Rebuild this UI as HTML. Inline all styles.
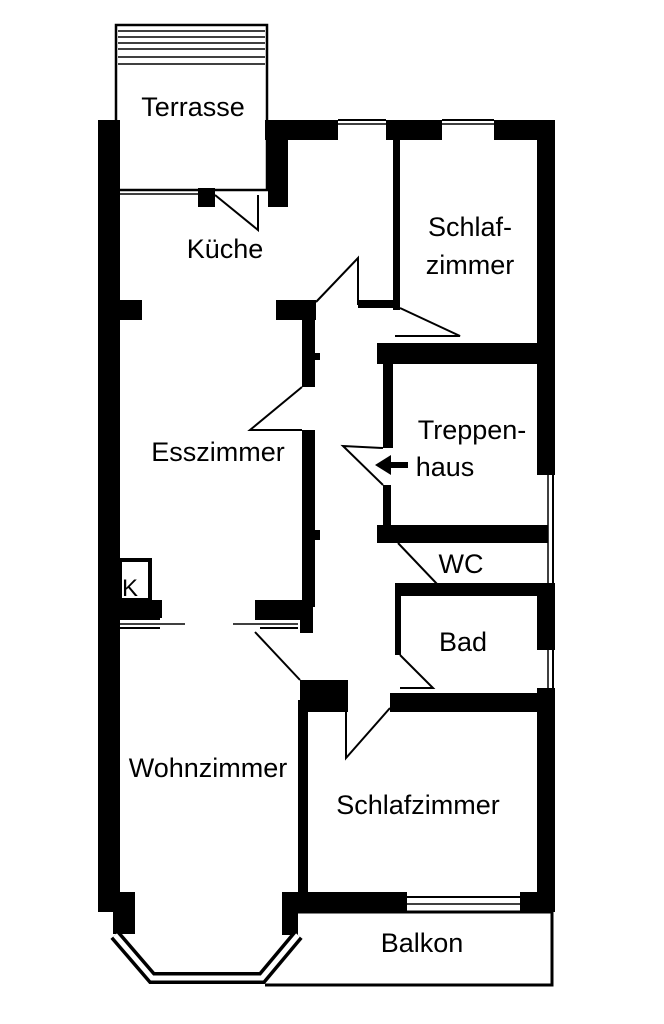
<!DOCTYPE html>
<html><head><meta charset="utf-8"><style>
html,body{margin:0;padding:0;background:#fff}
svg{display:block}
text{font-family:"Liberation Sans",sans-serif;font-size:27px;fill:#000;text-anchor:middle}
</style></head><body>
<svg width="664" height="1024" viewBox="0 0 664 1024" xmlns="http://www.w3.org/2000/svg">
<g fill="#000">
<rect x="98" y="120" width="22" height="792"/>
<rect x="265" y="120" width="73" height="20"/>
<rect x="386" y="120" width="56" height="20"/>
<rect x="494" y="120" width="61" height="20"/>
<rect x="537" y="120" width="18" height="355"/>
<rect x="268" y="140" width="20" height="67"/>
<rect x="198" y="188" width="17" height="19"/>
<rect x="393" y="140" width="7" height="170"/>
<rect x="358" y="300" width="42" height="8"/>
<rect x="120" y="300" width="22" height="20"/>
<rect x="276" y="300" width="40" height="20"/>
<rect x="302" y="300" width="13" height="87"/>
<rect x="315" y="353" width="5" height="7"/>
<rect x="302" y="430" width="13" height="177"/>
<rect x="315" y="530" width="5" height="10"/>
<rect x="120" y="600" width="42" height="18"/>
<rect x="255" y="600" width="55" height="20"/>
<rect x="300" y="600" width="13" height="33"/>
<rect x="300" y="680" width="48" height="32"/>
<rect x="298" y="700" width="10" height="192"/>
<rect x="390" y="693" width="147" height="19"/>
<rect x="377" y="343" width="163" height="21"/>
<rect x="383" y="363" width="10" height="85"/>
<rect x="383" y="485" width="8" height="42"/>
<rect x="377" y="525" width="171" height="18"/>
<rect x="395" y="583" width="145" height="13"/>
<rect x="395" y="583" width="6" height="72"/>
<rect x="537" y="583" width="18" height="67"/>
<rect x="537" y="688" width="18" height="224"/>
<rect x="298" y="892" width="109" height="20"/>
<rect x="520" y="892" width="35" height="20"/>
<rect x="113" y="892" width="22" height="42"/>
<rect x="282" y="892" width="16" height="43"/>
<rect x="388" y="462" width="20" height="6"/>
<polygon points="375,465 391,455 391,475"/>
</g>
<g fill="none" stroke="#000">
<rect x="116" y="25" width="151" height="165" stroke-width="2.5"/>
<g stroke-width="1.5">
<line x1="118" y1="31" x2="265" y2="31"/><line x1="118" y1="37" x2="265" y2="37"/>
<line x1="118" y1="43" x2="265" y2="43"/><line x1="118" y1="49" x2="265" y2="49"/>
<line x1="118" y1="57" x2="265" y2="57"/><line x1="118" y1="64" x2="265" y2="64"/>
<line x1="120" y1="194" x2="198" y2="194"/><line x1="338" y1="124" x2="386" y2="124"/>
<line x1="442" y1="124" x2="494" y2="124"/>
<line x1="548" y1="475" x2="548" y2="583"/><line x1="548" y1="650" x2="548" y2="688"/>
<line x1="120" y1="624" x2="185" y2="624"/><line x1="233" y1="624" x2="298" y2="624"/>
<line x1="407" y1="904" x2="520" y2="904"/>
</g>
<g stroke-width="2">
<line x1="120" y1="619" x2="160" y2="619"/><line x1="260" y1="619" x2="298" y2="619"/>
<line x1="120" y1="628" x2="160" y2="628"/><line x1="260" y1="628" x2="298" y2="628"/>
<line x1="407" y1="897" x2="520" y2="897"/>
<line x1="338" y1="120" x2="386" y2="120"/><line x1="442" y1="120" x2="494" y2="120"/>
<line x1="553" y1="475" x2="553" y2="583"/><line x1="553" y1="650" x2="553" y2="688"/>
<polyline points="215,195 258,230 258,195"/>
<polyline points="316,302 358,258 358,305"/>
<polyline points="400,308 460,336 395,336"/>
<polyline points="302,387 250,430 302,430"/>
<polyline points="383,485 343,446 383,448"/>
<polyline points="398,543 438,585 400,585"/>
<polyline points="400,655 433,688 400,688"/>
<polyline points="255,632 300,680"/>
<polyline points="346,712 346,758 390,708"/>
</g>
<rect x="120" y="560" width="30" height="40" stroke-width="4"/>
<polyline points="298,912 552,912 552,985 265,985" stroke-width="3"/>
<polyline points="115,935 152,978 262,978 298,935" stroke-width="12"/>
<polyline points="115,935 152,978 262,978 298,935" stroke="#fff" stroke-width="5"/>
</g>
<text x="193" y="116">Terrasse</text>
<text x="225" y="258">Küche</text>
<text x="470" y="236">Schlaf-</text>
<text x="470" y="274">zimmer</text>
<text x="218" y="461">Esszimmer</text>
<text x="472" y="439">Treppen-</text>
<text x="445" y="476">haus</text>
<text x="461" y="573">WC</text>
<text x="463" y="651">Bad</text>
<text x="130" y="596" style="font-size:24px">K</text>
<text x="208" y="777">Wohnzimmer</text>
<text x="418" y="814">Schlafzimmer</text>
<text x="422" y="952">Balkon</text>
</svg>
</body></html>
